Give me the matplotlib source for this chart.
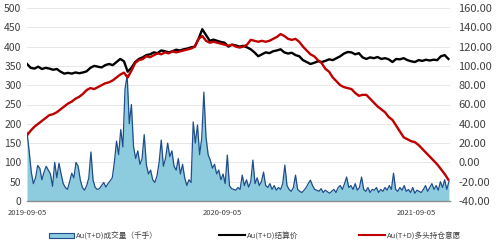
import matplotlib
matplotlib.use("Agg")
import matplotlib.pyplot as plt
from matplotlib.patches import Patch
from matplotlib.lines import Line2D
import pandas as pd

plt.rcParams['font.family'] = ['Noto Sans CJK SC', 'DejaVu Sans']

# ---------------- data ----------------
vol_start = "2019-09-05"
volume = [178, 130, 75, 45, 60, 92, 85, 55, 75, 90, 80, 70, 38, 100, 60, 98, 70, 45, 35, 30,
          50, 72, 60, 100, 90, 55, 35, 28, 40, 60, 127, 54, 35, 30, 32, 40, 48, 36, 45, 52,
          60, 100, 155, 120, 185, 140, 290, 326, 200, 250, 140, 110, 130, 95, 110, 172, 95, 70, 80, 55,
          48, 65, 100, 158, 90, 110, 150, 115, 130, 90, 80, 110, 70, 95, 60, 40, 55, 48, 205, 150,
          197, 120, 163, 282, 166, 120, 106, 85, 95, 70, 80, 55, 70, 45, 119, 40, 32, 30, 28, 35,
          30, 67, 40, 55, 36, 50, 106, 45, 60, 40, 50, 75, 40, 35, 45, 30, 40, 28, 35, 30,
          45, 93, 40, 30, 25, 35, 67, 30, 25, 22, 28, 35, 45, 54, 40, 30, 28, 25, 32, 22,
          28, 24, 20, 25, 30, 22, 35, 40, 30, 45, 62, 35, 40, 30, 45, 28, 35, 62, 30, 25,
          35, 22, 30, 28, 35, 22, 30, 25, 35, 28, 40, 30, 72, 30, 25, 35, 28, 40, 25, 30,
          22, 35, 20, 28, 25, 22, 30, 40, 25, 35, 45, 30, 40, 28, 50, 35, 55, 30, 50]

line_start = "2019-09-05"
price = [355, 345, 343, 348, 342, 345, 343, 340, 342, 335, 330, 332, 330, 333, 331, 333, 336, 345, 350, 348,
         346, 352, 355, 352, 360, 368, 362, 335, 345, 360, 368, 372, 378, 380, 385, 383, 390, 388, 385, 388,
         392, 390, 393, 395, 398, 400, 420, 445, 430, 415, 418, 415, 412, 410, 400, 405, 403, 400, 402, 398,
         393, 385, 375, 380, 385, 383, 388, 390, 393, 385, 382, 384, 378, 375, 365, 360, 355, 358, 362, 360,
         363, 367, 365, 370, 375, 382, 386, 385, 380, 383, 372, 368, 372, 370, 373, 368, 370, 367, 360, 368,
         367, 370, 365, 362, 360, 365, 363, 366, 364, 366, 365, 375, 378, 368]

willingness = [28, 33, 37, 40, 43, 46, 49, 50, 52, 55, 58, 61, 63, 66, 68, 71, 75, 77, 76, 78,
               80, 82, 83, 85, 88, 91, 93, 88, 95, 103, 106, 107, 110, 109, 111, 113, 112, 114, 113, 115,
               114, 115, 116, 117, 118, 120, 128, 131, 126, 124, 125, 124, 123, 122, 121, 122, 120, 119, 120, 122,
               127, 126, 125, 126, 125, 126, 128, 130, 133, 131, 128, 127, 128, 125, 120, 116, 112, 110, 106, 103,
               97, 94, 88, 84, 80, 78, 77, 76, 72, 69, 70, 70, 66, 62, 58, 55, 52, 47, 44, 38,
               32, 26, 24, 22, 21, 18, 14, 10, 6, 2, -2, -7, -12, -18]

xtick_labels = ["2019-09-05", "2020-09-05", "2021-09-05"]
legend_labels = ["Au(T+D)成交量（千手）", "Au(T+D)结算价", "Au(T+D)多头持仓意愿"]

vol_dates = pd.date_range(vol_start, periods=len(volume), freq="4D")
line_dates = pd.date_range(line_start, periods=len(price), freq="7D")

# ---------------- figure ----------------
fig = plt.figure(figsize=(4.98, 2.46), dpi=100)
ax = fig.add_axes([27 / 498, 45 / 246, 423 / 498, 193 / 246])
ax2 = ax.twinx()

fill_color = "#8DCBDF"
vol_line = "#1F4E8C"

ax.fill_between(vol_dates, volume, 0, color=fill_color, lw=0, zorder=1)
ax.plot(vol_dates, volume, color=vol_line, lw=0.9, zorder=2)
ax.plot(line_dates, price, color="black", lw=1.7, zorder=3)
ax2.plot(line_dates, willingness, color="#C00000", lw=1.7, zorder=3)

ax.set_ylim(0, 500)
ax.set_yticks(range(0, 501, 50))
ax2.set_ylim(-40, 160)
ax2.set_yticks(range(-40, 161, 20))
ax2.set_yticklabels([f"{v:.2f}" for v in range(-40, 161, 20)])

ax.set_xlim(pd.Timestamp("2019-09-05"), pd.Timestamp("2021-11-07"))
ax.set_xticks([pd.Timestamp(d) for d in xtick_labels])
ax.set_xticklabels(xtick_labels)

ax.grid(axis="y", color="#E3E3E3", lw=0.6)
ax.set_axisbelow(True)
for a in (ax, ax2):
    for s in ("top", "left", "right", "bottom"):
        a.spines[s].set_visible(False)
ax.spines["bottom"].set_visible(True)
ax.spines["bottom"].set_color("#8C8C8C")
ax.spines["bottom"].set_linewidth(1.0)

ax.tick_params(axis="y", length=0, labelsize=7.5, colors="#404040", pad=4)
ax2.tick_params(axis="y", length=0, labelsize=8, colors="#404040", pad=6)
ax.tick_params(axis="x", length=0, labelsize=5.5, colors="#404040", pad=6)

handles = [Patch(facecolor=fill_color, edgecolor=vol_line, lw=0.8),
           Line2D([0], [0], color="black", lw=1.5),
           Line2D([0], [0], color="#C00000", lw=1.5)]
fig.legend(handles, legend_labels, loc="center", bbox_to_anchor=(255 / 498, 10 / 246), ncol=3,
           frameon=False, fontsize=5.5, columnspacing=8, handlelength=3.3, handletextpad=0.3,
           labelcolor="#404040")

fig.savefig("out.png", dpi=100)
